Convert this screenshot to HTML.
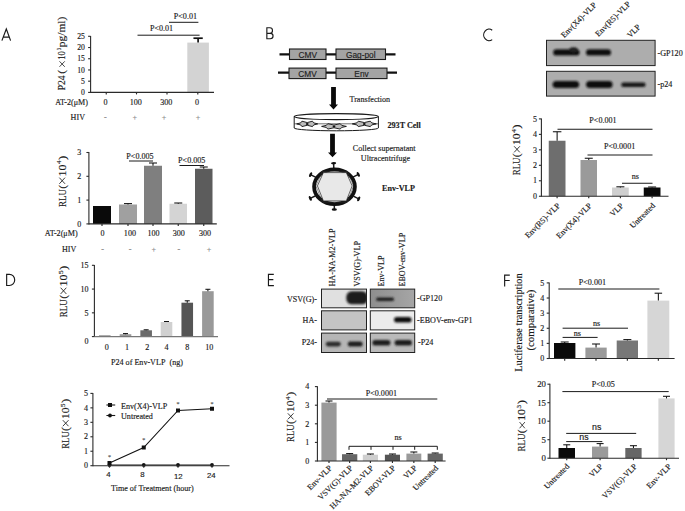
<!DOCTYPE html>
<html><head><meta charset="utf-8"><style>
html,body{margin:0;padding:0;background:#fff;width:685px;height:511px;overflow:hidden}
svg{display:block}
</style></head><body>
<svg width="685" height="511" viewBox="0 0 685 511">
<path d="M1.9,40.6 L6.3,29.0 L10.6,40.6 M3.4,37.1 L9.3,37.1 M266.85,27.75 V38.75 M266.3,27.75 H269.9 A2.6,2.8 0 0 1 269.9,33.35 H266.85 M266.85,33.35 H270.3 A2.75,2.7 0 0 1 270.3,38.75 H266.3 M492.2,30.2 A5.4,5.75 0 1 0 492.2,39.6 M6.65,274.3 V285.5 H9.4 A5.3,5.6 0 0 0 9.4,274.3 Z M273.8,274.35 H268.45 V285.6 H273.9 M268.45,279.65 H273.35 M509.8,275.15 H504.65 V286.4 M504.65,280.45 H509.7" fill="none" stroke="#1a1a1a" stroke-width="1.15"/>
<text x="84.90" y="95.10" font-size="7.7" font-family="Liberation Serif" text-anchor="end" fill="#1a1a1a" stroke="#1a1a1a" stroke-width="0.15">0</text>
<text x="84.90" y="83.88" font-size="7.7" font-family="Liberation Serif" text-anchor="end" fill="#1a1a1a" stroke="#1a1a1a" stroke-width="0.15">5</text>
<text x="84.90" y="72.66" font-size="7.7" font-family="Liberation Serif" text-anchor="end" fill="#1a1a1a" stroke="#1a1a1a" stroke-width="0.15">10</text>
<text x="84.90" y="61.44" font-size="7.7" font-family="Liberation Serif" text-anchor="end" fill="#1a1a1a" stroke="#1a1a1a" stroke-width="0.15">15</text>
<text x="84.90" y="50.22" font-size="7.7" font-family="Liberation Serif" text-anchor="end" fill="#1a1a1a" stroke="#1a1a1a" stroke-width="0.15">20</text>
<text x="84.90" y="39.00" font-size="7.7" font-family="Liberation Serif" text-anchor="end" fill="#1a1a1a" stroke="#1a1a1a" stroke-width="0.15">25</text>
<rect x="187.30" y="42.60" width="21.60" height="49.80" fill="#d3d3d3"/>
<line x1="198.10" y1="42.60" x2="198.10" y2="38.20" stroke="#111" stroke-width="1.7"/>
<line x1="193.45" y1="38.20" x2="202.75" y2="38.20" stroke="#111" stroke-width="1.7"/>
<line x1="137.50" y1="35.20" x2="199.60" y2="35.20" stroke="#1a1a1a" stroke-width="1"/>
<text x="161.50" y="31.00" font-size="8.1" font-family="Liberation Serif" text-anchor="middle" fill="#1a1a1a" stroke="#1a1a1a" stroke-width="0.15">P&lt;0.01</text>
<line x1="169.00" y1="22.30" x2="198.40" y2="22.30" stroke="#1a1a1a" stroke-width="1"/>
<text x="185.40" y="18.80" font-size="8.1" font-family="Liberation Serif" text-anchor="middle" fill="#1a1a1a" stroke="#1a1a1a" stroke-width="0.15">P&lt;0.01</text>
<text x="88.00" y="104.80" font-size="8.1" font-family="Liberation Serif" text-anchor="end" fill="#1a1a1a" stroke="#1a1a1a" stroke-width="0.15">AT-2(μM)</text>
<text x="105.45" y="105.00" font-size="8.1" font-family="Liberation Serif" text-anchor="middle" fill="#1a1a1a" stroke="#1a1a1a" stroke-width="0.15">0</text>
<text x="135.70" y="105.00" font-size="8.1" font-family="Liberation Serif" text-anchor="middle" fill="#1a1a1a" stroke="#1a1a1a" stroke-width="0.15">100</text>
<text x="166.20" y="105.00" font-size="8.1" font-family="Liberation Serif" text-anchor="middle" fill="#1a1a1a" stroke="#1a1a1a" stroke-width="0.15">300</text>
<text x="197.00" y="105.00" font-size="8.1" font-family="Liberation Serif" text-anchor="middle" fill="#1a1a1a" stroke="#1a1a1a" stroke-width="0.15">0</text>
<text x="85.00" y="119.80" font-size="8.1" font-family="Liberation Serif" text-anchor="end" fill="#1a1a1a" stroke="#1a1a1a" stroke-width="0.15">HIV</text>
<text x="105.30" y="119.80" font-size="8.1" font-family="Liberation Serif" text-anchor="middle" fill="#888" stroke="#888" stroke-width="0.15">-</text>
<text x="134.70" y="119.80" font-size="8.1" font-family="Liberation Serif" text-anchor="middle" fill="#888" stroke="#888" stroke-width="0.15">+</text>
<text x="164.10" y="119.80" font-size="8.1" font-family="Liberation Serif" text-anchor="middle" fill="#888" stroke="#888" stroke-width="0.15">+</text>
<text x="198.00" y="119.80" font-size="8.1" font-family="Liberation Serif" text-anchor="middle" fill="#888" stroke="#888" stroke-width="0.15">+</text>
<g transform="translate(65.30 90.20) rotate(-90)" fill="#1a1a1a" font-family="Liberation Serif" stroke="#1a1a1a" stroke-width="0.15"><text x="0.00" y="0" font-size="10.6" textLength="14.80" lengthAdjust="spacingAndGlyphs">P24</text><text x="16.40" y="0" font-size="10.6" textLength="3.90" lengthAdjust="spacingAndGlyphs">(</text><path d="M23.40,-5.83 L28.90,-0.53 M23.40,-0.53 L28.90,-5.83" stroke="#1a1a1a" stroke-width="0.79" fill="none"/><text x="30.50" y="0" font-size="10.6" textLength="8.60" lengthAdjust="spacingAndGlyphs">10</text><text x="39.90" y="-4.03" font-size="6.57" textLength="2.30" lengthAdjust="spacingAndGlyphs">3</text><text x="43.00" y="0" font-size="10.6" textLength="30.50" lengthAdjust="spacingAndGlyphs">pg/ml)</text></g>
<text x="81.30" y="226.60" font-size="8.0" font-family="Liberation Serif" text-anchor="end" fill="#1a1a1a" stroke="#1a1a1a" stroke-width="0.15">0</text>
<text x="81.30" y="202.80" font-size="8.0" font-family="Liberation Serif" text-anchor="end" fill="#1a1a1a" stroke="#1a1a1a" stroke-width="0.15">1</text>
<text x="81.30" y="179.00" font-size="8.0" font-family="Liberation Serif" text-anchor="end" fill="#1a1a1a" stroke="#1a1a1a" stroke-width="0.15">2</text>
<text x="81.30" y="155.20" font-size="8.0" font-family="Liberation Serif" text-anchor="end" fill="#1a1a1a" stroke="#1a1a1a" stroke-width="0.15">3</text>
<rect x="93.00" y="206.00" width="18.00" height="17.90" fill="#0a0a0a"/>
<rect x="119.00" y="204.50" width="18.00" height="19.40" fill="#a0a0a0"/>
<line x1="128.00" y1="204.50" x2="128.00" y2="203.60" stroke="#111" stroke-width="1.05"/>
<line x1="124.00" y1="203.60" x2="132.00" y2="203.60" stroke="#111" stroke-width="1.05"/>
<rect x="144.00" y="165.75" width="18.00" height="58.15" fill="#7f7f7f"/>
<line x1="153.00" y1="165.75" x2="153.00" y2="163.00" stroke="#111" stroke-width="1.05"/>
<line x1="149.00" y1="163.00" x2="157.00" y2="163.00" stroke="#111" stroke-width="1.05"/>
<rect x="169.50" y="203.75" width="17.50" height="20.15" fill="#d4d4d4"/>
<line x1="178.25" y1="203.75" x2="178.25" y2="203.00" stroke="#111" stroke-width="1.05"/>
<line x1="174.25" y1="203.00" x2="182.25" y2="203.00" stroke="#111" stroke-width="1.05"/>
<rect x="195.00" y="168.75" width="17.50" height="55.15" fill="#5c5c5c"/>
<line x1="203.75" y1="168.75" x2="203.75" y2="167.00" stroke="#111" stroke-width="1.05"/>
<line x1="199.75" y1="167.00" x2="207.75" y2="167.00" stroke="#111" stroke-width="1.05"/>
<line x1="129.00" y1="161.00" x2="153.00" y2="161.00" stroke="#1a1a1a" stroke-width="1"/>
<text x="140.00" y="159.30" font-size="8.1" font-family="Liberation Serif" text-anchor="middle" fill="#1a1a1a" stroke="#1a1a1a" stroke-width="0.15">P&lt;0.005</text>
<line x1="179.50" y1="165.50" x2="204.00" y2="165.50" stroke="#1a1a1a" stroke-width="1"/>
<text x="191.75" y="163.00" font-size="8.1" font-family="Liberation Serif" text-anchor="middle" fill="#1a1a1a" stroke="#1a1a1a" stroke-width="0.15">P&lt;0.005</text>
<text x="77.60" y="235.60" font-size="8.1" font-family="Liberation Serif" text-anchor="end" fill="#1a1a1a" stroke="#1a1a1a" stroke-width="0.15">AT-2(μM)</text>
<text x="102.50" y="235.50" font-size="8.1" font-family="Liberation Serif" text-anchor="middle" fill="#1a1a1a" stroke="#1a1a1a" stroke-width="0.15">0</text>
<text x="129.90" y="235.50" font-size="8.1" font-family="Liberation Serif" text-anchor="middle" fill="#1a1a1a" stroke="#1a1a1a" stroke-width="0.15">100</text>
<text x="153.60" y="235.50" font-size="8.1" font-family="Liberation Serif" text-anchor="middle" fill="#1a1a1a" stroke="#1a1a1a" stroke-width="0.15">100</text>
<text x="178.80" y="235.50" font-size="8.1" font-family="Liberation Serif" text-anchor="middle" fill="#1a1a1a" stroke="#1a1a1a" stroke-width="0.15">300</text>
<text x="205.00" y="235.50" font-size="8.1" font-family="Liberation Serif" text-anchor="middle" fill="#1a1a1a" stroke="#1a1a1a" stroke-width="0.15">300</text>
<text x="76.30" y="251.50" font-size="8.1" font-family="Liberation Serif" text-anchor="end" fill="#1a1a1a" stroke="#1a1a1a" stroke-width="0.15">HIV</text>
<text x="102.50" y="251.50" font-size="8.1" font-family="Liberation Serif" text-anchor="middle" fill="#888" stroke="#888" stroke-width="0.15">-</text>
<text x="130.00" y="251.50" font-size="8.1" font-family="Liberation Serif" text-anchor="middle" fill="#888" stroke="#888" stroke-width="0.15">-</text>
<text x="153.75" y="251.50" font-size="8.1" font-family="Liberation Serif" text-anchor="middle" fill="#888" stroke="#888" stroke-width="0.15">+</text>
<text x="178.75" y="251.50" font-size="8.1" font-family="Liberation Serif" text-anchor="middle" fill="#888" stroke="#888" stroke-width="0.15">-</text>
<text x="209.00" y="251.50" font-size="8.1" font-family="Liberation Serif" text-anchor="middle" fill="#888" stroke="#888" stroke-width="0.15">+</text>
<g transform="translate(65.60 207.00) rotate(-90)" fill="#1a1a1a" font-family="Liberation Serif" stroke="#1a1a1a" stroke-width="0.15"><text x="0.00" y="0" font-size="11.4" textLength="18.02" lengthAdjust="spacingAndGlyphs">RLU</text><text x="18.28" y="0" font-size="11.4" textLength="3.86" lengthAdjust="spacingAndGlyphs">(</text><path d="M23.18,-6.27 L29.35,-0.57 M23.18,-0.57 L29.35,-6.27" stroke="#1a1a1a" stroke-width="0.85" fill="none"/><text x="30.64" y="0" font-size="11.4" textLength="11.84" lengthAdjust="spacingAndGlyphs">10</text><text x="43.00" y="-4.33" font-size="7.07" textLength="3.61" lengthAdjust="spacingAndGlyphs">4</text><text x="47.12" y="0" font-size="11.4" textLength="4.38" lengthAdjust="spacingAndGlyphs">)</text></g>
<text x="88.40" y="344.30" font-size="8.0" font-family="Liberation Serif" text-anchor="end" fill="#1a1a1a" stroke="#1a1a1a" stroke-width="0.15">0</text>
<text x="88.40" y="315.53" font-size="8.0" font-family="Liberation Serif" text-anchor="end" fill="#1a1a1a" stroke="#1a1a1a" stroke-width="0.15">5</text>
<text x="88.40" y="291.77" font-size="8.0" font-family="Liberation Serif" text-anchor="end" fill="#1a1a1a" stroke="#1a1a1a" stroke-width="0.15">10</text>
<text x="88.40" y="268.00" font-size="8.0" font-family="Liberation Serif" text-anchor="end" fill="#1a1a1a" stroke="#1a1a1a" stroke-width="0.15">15</text>
<line x1="99.00" y1="336.00" x2="110.60" y2="336.00" stroke="#333" stroke-width="0.8"/>
<rect x="119.70" y="334.20" width="11.60" height="1.80" fill="#999"/>
<line x1="125.50" y1="334.20" x2="125.50" y2="333.60" stroke="#111" stroke-width="1.05"/>
<line x1="123.00" y1="333.60" x2="128.00" y2="333.60" stroke="#111" stroke-width="1.05"/>
<rect x="140.35" y="330.30" width="11.60" height="5.70" fill="#6a6a6a"/>
<line x1="146.15" y1="330.30" x2="146.15" y2="329.80" stroke="#111" stroke-width="1.05"/>
<line x1="143.65" y1="329.80" x2="148.65" y2="329.80" stroke="#111" stroke-width="1.05"/>
<rect x="160.70" y="322.00" width="11.60" height="14.00" fill="#d0d0d0"/>
<line x1="166.50" y1="322.00" x2="166.50" y2="321.50" stroke="#111" stroke-width="1.05"/>
<line x1="164.00" y1="321.50" x2="169.00" y2="321.50" stroke="#111" stroke-width="1.05"/>
<rect x="181.45" y="302.70" width="11.60" height="33.30" fill="#555"/>
<line x1="187.25" y1="302.70" x2="187.25" y2="300.80" stroke="#111" stroke-width="1.05"/>
<line x1="184.75" y1="300.80" x2="189.75" y2="300.80" stroke="#111" stroke-width="1.05"/>
<rect x="202.10" y="291.20" width="11.60" height="44.80" fill="#999"/>
<line x1="207.90" y1="291.20" x2="207.90" y2="289.30" stroke="#111" stroke-width="1.05"/>
<line x1="205.40" y1="289.30" x2="210.40" y2="289.30" stroke="#111" stroke-width="1.05"/>
<text x="106.75" y="350.00" font-size="8.1" font-family="Liberation Serif" text-anchor="middle" fill="#1a1a1a" stroke="#1a1a1a" stroke-width="0.15">0</text>
<text x="127.00" y="350.00" font-size="8.1" font-family="Liberation Serif" text-anchor="middle" fill="#1a1a1a" stroke="#1a1a1a" stroke-width="0.15">1</text>
<text x="147.20" y="350.00" font-size="8.1" font-family="Liberation Serif" text-anchor="middle" fill="#1a1a1a" stroke="#1a1a1a" stroke-width="0.15">2</text>
<text x="166.50" y="350.00" font-size="8.1" font-family="Liberation Serif" text-anchor="middle" fill="#1a1a1a" stroke="#1a1a1a" stroke-width="0.15">4</text>
<text x="187.20" y="350.00" font-size="8.1" font-family="Liberation Serif" text-anchor="middle" fill="#1a1a1a" stroke="#1a1a1a" stroke-width="0.15">8</text>
<text x="209.20" y="350.00" font-size="8.1" font-family="Liberation Serif" text-anchor="middle" fill="#1a1a1a" stroke="#1a1a1a" stroke-width="0.15">10</text>
<text x="111.00" y="364.50" font-size="8.1" font-family="Liberation Serif" fill="#1a1a1a" stroke="#1a1a1a" stroke-width="0.15">P24 of Env-VLP  (ng)</text>
<g transform="translate(66.90 317.20) rotate(-90)" fill="#1a1a1a" font-family="Liberation Serif" stroke="#1a1a1a" stroke-width="0.15"><text x="0.00" y="0" font-size="11.4" textLength="18.09" lengthAdjust="spacingAndGlyphs">RLU</text><text x="18.35" y="0" font-size="11.4" textLength="3.88" lengthAdjust="spacingAndGlyphs">(</text><path d="M23.26,-6.27 L29.47,-0.57 M23.26,-0.57 L29.47,-6.27" stroke="#1a1a1a" stroke-width="0.85" fill="none"/><text x="30.76" y="0" font-size="11.4" textLength="11.89" lengthAdjust="spacingAndGlyphs">10</text><text x="43.17" y="-4.33" font-size="7.07" textLength="3.62" lengthAdjust="spacingAndGlyphs">5</text><text x="47.31" y="0" font-size="11.4" textLength="4.39" lengthAdjust="spacingAndGlyphs">)</text></g>
<text x="88.00" y="468.40" font-size="8.0" font-family="Liberation Serif" text-anchor="end" fill="#1a1a1a" stroke="#1a1a1a" stroke-width="0.15">0</text>
<text x="88.00" y="453.94" font-size="8.0" font-family="Liberation Serif" text-anchor="end" fill="#1a1a1a" stroke="#1a1a1a" stroke-width="0.15">1</text>
<text x="88.00" y="439.48" font-size="8.0" font-family="Liberation Serif" text-anchor="end" fill="#1a1a1a" stroke="#1a1a1a" stroke-width="0.15">2</text>
<text x="88.00" y="425.02" font-size="8.0" font-family="Liberation Serif" text-anchor="end" fill="#1a1a1a" stroke="#1a1a1a" stroke-width="0.15">3</text>
<text x="88.00" y="410.56" font-size="8.0" font-family="Liberation Serif" text-anchor="end" fill="#1a1a1a" stroke="#1a1a1a" stroke-width="0.15">4</text>
<text x="88.00" y="396.10" font-size="8.0" font-family="Liberation Serif" text-anchor="end" fill="#1a1a1a" stroke="#1a1a1a" stroke-width="0.15">5</text>
<polyline points="109.5,463 143.75,447.5 178,410.5 212,408.75" fill="none" stroke="#111" stroke-width="1.05"/>
<line x1="109.50" y1="465.00" x2="212.00" y2="465.00" stroke="#1a1a1a" stroke-width="1.2"/>
<rect x="107.50" y="461.00" width="4.00" height="4.00" fill="#111"/>
<rect x="141.75" y="445.50" width="4.00" height="4.00" fill="#111"/>
<rect x="176.00" y="408.50" width="4.00" height="4.00" fill="#111"/>
<rect x="210.00" y="406.75" width="4.00" height="4.00" fill="#111"/>
<circle cx="109.5" cy="465" r="1.9" fill="#111"/>
<circle cx="143.75" cy="465" r="1.9" fill="#111"/>
<circle cx="178" cy="465" r="1.9" fill="#111"/>
<circle cx="212" cy="465" r="1.9" fill="#111"/>
<text x="109.50" y="458.50" font-size="6" font-family="Liberation Serif" text-anchor="middle" fill="#666" stroke="#666" stroke-width="0.15">*</text>
<text x="143.75" y="442.00" font-size="6" font-family="Liberation Serif" text-anchor="middle" fill="#666" stroke="#666" stroke-width="0.15">*</text>
<text x="178.00" y="406.00" font-size="6" font-family="Liberation Serif" text-anchor="middle" fill="#666" stroke="#666" stroke-width="0.15">*</text>
<text x="212.00" y="405.50" font-size="6" font-family="Liberation Serif" text-anchor="middle" fill="#666" stroke="#666" stroke-width="0.15">*</text>
<line x1="106.40" y1="405.00" x2="115.20" y2="405.00" stroke="#1a1a1a" stroke-width="1.1"/>
<rect x="108.00" y="403.00" width="4.00" height="4.00" fill="#111"/>
<text x="121.00" y="408.50" font-size="8.1" font-family="Liberation Serif" fill="#1a1a1a" stroke="#1a1a1a" stroke-width="0.15">Env(X4)-VLP</text>
<line x1="106.40" y1="415.50" x2="115.20" y2="415.50" stroke="#1a1a1a" stroke-width="1.1"/>
<circle cx="110" cy="415.5" r="1.9" fill="#111"/>
<text x="121.00" y="419.00" font-size="8.1" font-family="Liberation Serif" fill="#1a1a1a" stroke="#1a1a1a" stroke-width="0.15">Untreated</text>
<text x="108.50" y="477.30" font-size="7.8" font-family="Liberation Sans" text-anchor="middle" fill="#1a1a1a" stroke="#1a1a1a" stroke-width="0.15">4</text>
<text x="142.50" y="477.30" font-size="7.8" font-family="Liberation Sans" text-anchor="middle" fill="#1a1a1a" stroke="#1a1a1a" stroke-width="0.15">8</text>
<text x="178.30" y="478.60" font-size="7.8" font-family="Liberation Sans" text-anchor="middle" fill="#1a1a1a" stroke="#1a1a1a" stroke-width="0.15">12</text>
<text x="211.30" y="477.60" font-size="7.8" font-family="Liberation Sans" text-anchor="middle" fill="#1a1a1a" stroke="#1a1a1a" stroke-width="0.15">24</text>
<text x="111.00" y="490.50" font-size="8.1" font-family="Liberation Serif" fill="#1a1a1a" stroke="#1a1a1a" stroke-width="0.15">Time of Treatment (hour)</text>
<g transform="translate(69.10 448.80) rotate(-90)" fill="#1a1a1a" font-family="Liberation Serif" stroke="#1a1a1a" stroke-width="0.15"><text x="0.00" y="0" font-size="11.4" textLength="17.57" lengthAdjust="spacingAndGlyphs">RLU</text><text x="17.82" y="0" font-size="11.4" textLength="3.77" lengthAdjust="spacingAndGlyphs">(</text><path d="M22.59,-6.27 L28.61,-0.57 M22.59,-0.57 L28.61,-6.27" stroke="#1a1a1a" stroke-width="0.85" fill="none"/><text x="29.87" y="0" font-size="11.4" textLength="11.55" lengthAdjust="spacingAndGlyphs">10</text><text x="41.92" y="-4.33" font-size="7.07" textLength="3.51" lengthAdjust="spacingAndGlyphs">5</text><text x="45.93" y="0" font-size="11.4" textLength="4.27" lengthAdjust="spacingAndGlyphs">)</text></g>
<line x1="279.50" y1="54.40" x2="395.50" y2="54.40" stroke="#111" stroke-width="2.1"/>
<rect x="289.50" y="49.00" width="36.50" height="10.50" fill="#a4a4a4" stroke="#1a1a1a" stroke-width="1.1"/>
<rect x="336.00" y="49.00" width="49.50" height="10.50" fill="#a4a4a4" stroke="#1a1a1a" stroke-width="1.1"/>
<text x="307.75" y="57.70" font-size="8.3" font-family="Liberation Sans" text-anchor="middle" fill="#222" stroke="#222" stroke-width="0.15">CMV</text>
<text x="360.75" y="57.70" font-size="8.3" font-family="Liberation Sans" text-anchor="middle" fill="#222" stroke="#222" stroke-width="0.15">Gag-pol</text>
<line x1="278.00" y1="72.60" x2="397.00" y2="72.60" stroke="#111" stroke-width="2.1"/>
<rect x="289.00" y="68.10" width="37.00" height="10.50" fill="#a4a4a4" stroke="#1a1a1a" stroke-width="1.1"/>
<rect x="336.00" y="68.10" width="51.00" height="10.50" fill="#a4a4a4" stroke="#1a1a1a" stroke-width="1.1"/>
<text x="307.50" y="76.80" font-size="8.3" font-family="Liberation Sans" text-anchor="middle" fill="#222" stroke="#222" stroke-width="0.15">CMV</text>
<text x="361.50" y="76.80" font-size="8.3" font-family="Liberation Sans" text-anchor="middle" fill="#222" stroke="#222" stroke-width="0.15">Env</text>
<polygon points="331.1,87 335.9,87 335.9,104.60000000000001 338.0,104.60000000000001 333.5,109.4 329.0,104.60000000000001 331.1,104.60000000000001" fill="#0a0a0a"/>
<text x="349.50" y="102.30" font-size="8.1" font-family="Liberation Serif" fill="#1a1a1a" stroke="#1a1a1a" stroke-width="0.15">Transfection</text>
<path d="M294.2,116.6 L294.2,128 A42.1,2.8 0 0 0 378.4,128 L378.4,116.6" fill="#fff" stroke="#1a1a1a" stroke-width="1"/>
<ellipse cx="336.3" cy="116.6" rx="42.1" ry="3.0" fill="#fff" stroke="#1a1a1a" stroke-width="1.1"/>
<line x1="294.20" y1="123.80" x2="378.40" y2="123.80" stroke="#333" stroke-width="0.7"/>
<polygon points="296.70,123.90 300.69,122.87 301.95,121.20 307.20,122.55 312.45,121.20 313.71,122.87 317.70,123.90 313.71,124.93 312.45,126.60 307.20,125.25 301.95,126.60 300.69,124.93" fill="#bdbdbd" stroke="#111" stroke-width="0.9" stroke-linejoin="miter"/>
<ellipse cx="307.2" cy="123.9" rx="1.4" ry="1.0" fill="#111"/>
<polygon points="321.60,126.40 326.31,125.37 327.80,123.70 334.00,125.05 340.20,123.70 341.69,125.37 346.40,126.40 341.69,127.43 340.20,129.10 334.00,127.75 327.80,129.10 326.31,127.43" fill="#bdbdbd" stroke="#111" stroke-width="0.9" stroke-linejoin="miter"/>
<ellipse cx="334" cy="126.4" rx="1.4" ry="1.0" fill="#111"/>
<polygon points="352.30,123.90 356.86,122.87 358.30,121.20 364.30,122.55 370.30,121.20 371.74,122.87 376.30,123.90 371.74,124.93 370.30,126.60 364.30,125.25 358.30,126.60 356.86,124.93" fill="#bdbdbd" stroke="#111" stroke-width="0.9" stroke-linejoin="miter"/>
<ellipse cx="364.3" cy="123.9" rx="1.4" ry="1.0" fill="#111"/>
<text x="387.50" y="128.20" font-size="8.1" font-family="Liberation Serif" font-weight="bold" fill="#1a1a1a" stroke="#1a1a1a" stroke-width="0.15">293T Cell</text>
<polygon points="330.1,133.8 334.9,133.8 334.9,152.39999999999998 337.0,152.39999999999998 332.5,157.2 328.0,152.39999999999998 330.1,152.39999999999998" fill="#0a0a0a"/>
<text x="384.20" y="151.00" font-size="8.1" font-family="Liberation Serif" text-anchor="middle" fill="#1a1a1a" stroke="#1a1a1a" stroke-width="0.15">Collect  supernatant</text>
<text x="385.50" y="161.30" font-size="8.1" font-family="Liberation Serif" text-anchor="middle" fill="#1a1a1a" stroke="#1a1a1a" stroke-width="0.15">Ultracentrifuge</text>
<line x1="333.83" y1="169.20" x2="333.62" y2="163.70" stroke="#1a1a1a" stroke-width="1.5"/>
<ellipse cx="333.60" cy="163.20" rx="2.6" ry="1.25" fill="#111" transform="rotate(-2.2 333.60 163.20)"/>
<line x1="334.35" y1="203.60" x2="334.30" y2="209.10" stroke="#1a1a1a" stroke-width="1.5"/>
<ellipse cx="334.30" cy="209.60" rx="2.6" ry="1.25" fill="#111" transform="rotate(180.5 334.30 209.60)"/>
<line x1="315.95" y1="177.31" x2="311.05" y2="174.83" stroke="#1a1a1a" stroke-width="1.5"/>
<ellipse cx="310.60" cy="174.60" rx="2.6" ry="1.25" fill="#111" transform="rotate(-63.1 310.60 174.60)"/>
<line x1="352.97" y1="177.15" x2="357.86" y2="174.63" stroke="#1a1a1a" stroke-width="1.5"/>
<ellipse cx="358.30" cy="174.40" rx="2.6" ry="1.25" fill="#111" transform="rotate(62.7 358.30 174.40)"/>
<line x1="315.70" y1="195.79" x2="310.75" y2="198.18" stroke="#1a1a1a" stroke-width="1.5"/>
<ellipse cx="310.30" cy="198.40" rx="2.6" ry="1.25" fill="#111" transform="rotate(244.2 310.30 198.40)"/>
<line x1="353.34" y1="196.20" x2="358.25" y2="198.67" stroke="#1a1a1a" stroke-width="1.5"/>
<ellipse cx="358.70" cy="198.90" rx="2.6" ry="1.25" fill="#111" transform="rotate(116.8 358.70 198.90)"/>
<ellipse cx="334.5" cy="186.7" rx="20.4" ry="17.4" fill="#fff" stroke="#111" stroke-width="3.8"/>
<polygon points="317.4,185.9 323.4,172.6 346.3,172.6 352.2,185.9 346.3,200.9 323.4,200.9" fill="#e8e8e8" stroke="#222" stroke-width="0.7"/>
<polygon points="315.9,185.9 322.4,171.4 347.3,171.4 353.6,185.9 347.3,202.1 322.4,202.1" fill="none" stroke="#333" stroke-width="0.5"/>
<text x="382.00" y="190.50" font-size="8.1" font-family="Liberation Serif" font-weight="bold" fill="#1a1a1a" stroke="#1a1a1a" stroke-width="0.15">Env-VLP</text>
<defs><filter id="bl" x="-20%" y="-50%" width="140%" height="200%"><feGaussianBlur stdDeviation="1.2"/></filter><filter id="bl2" x="-20%" y="-50%" width="140%" height="200%"><feGaussianBlur stdDeviation="0.8"/></filter></defs>
<rect x="546.50" y="40.30" width="108.60" height="25.30" fill="#adadad" stroke="#222" stroke-width="1"/>
<rect x="546.50" y="71.30" width="108.60" height="24.80" fill="#adadad" stroke="#222" stroke-width="1"/>
<rect x="553.2" y="49.2" width="26.299999999999955" height="6.399999999999999" rx="3.1999999999999993" fill="#111" filter="url(#bl)"/>
<rect x="586" y="49.2" width="25" height="6.399999999999999" rx="3.1999999999999993" fill="#111" filter="url(#bl)"/>
<ellipse cx="573.5" cy="49.8" rx="4" ry="2.6" fill="#222" filter="url(#bl2)"/>
<rect x="552.6" y="80.9" width="26.600000000000023" height="7.0" rx="3.5" fill="#111" filter="url(#bl)"/>
<rect x="586" y="80.9" width="26.600000000000023" height="7.0" rx="3.5" fill="#111" filter="url(#bl)"/>
<rect x="621.2" y="82.5" width="24.399999999999977" height="4.400000000000006" rx="2.200000000000003" fill="#151515" filter="url(#bl)"/>
<text x="657.50" y="55.50" font-size="8.1" font-family="Liberation Serif" fill="#1a1a1a" stroke="#1a1a1a" stroke-width="0.15">-GP120</text>
<text x="657.50" y="86.50" font-size="8.1" font-family="Liberation Serif" fill="#1a1a1a" stroke="#1a1a1a" stroke-width="0.15">-p24</text>
<text x="597.00" y="5.50" font-size="8.1" font-family="Liberation Serif" text-anchor="end" fill="#1a1a1a" stroke="#1a1a1a" stroke-width="0.15" transform="rotate(-45 597.00 5.50)">Env(X4)-VLP</text>
<text x="631.00" y="4.50" font-size="8.1" font-family="Liberation Serif" text-anchor="end" fill="#1a1a1a" stroke="#1a1a1a" stroke-width="0.15" transform="rotate(-45 631.00 4.50)">Env(R5)-VLP</text>
<text x="641.00" y="27.50" font-size="8.1" font-family="Liberation Serif" text-anchor="end" fill="#1a1a1a" stroke="#1a1a1a" stroke-width="0.15" transform="rotate(-45 641.00 27.50)">VLP</text>
<text x="537.10" y="198.95" font-size="8.0" font-family="Liberation Serif" text-anchor="end" fill="#1a1a1a" stroke="#1a1a1a" stroke-width="0.15">0</text>
<text x="537.10" y="183.48" font-size="8.0" font-family="Liberation Serif" text-anchor="end" fill="#1a1a1a" stroke="#1a1a1a" stroke-width="0.15">1</text>
<text x="537.10" y="168.01" font-size="8.0" font-family="Liberation Serif" text-anchor="end" fill="#1a1a1a" stroke="#1a1a1a" stroke-width="0.15">2</text>
<text x="537.10" y="152.54" font-size="8.0" font-family="Liberation Serif" text-anchor="end" fill="#1a1a1a" stroke="#1a1a1a" stroke-width="0.15">3</text>
<text x="537.10" y="137.07" font-size="8.0" font-family="Liberation Serif" text-anchor="end" fill="#1a1a1a" stroke="#1a1a1a" stroke-width="0.15">4</text>
<text x="537.10" y="121.60" font-size="8.0" font-family="Liberation Serif" text-anchor="end" fill="#1a1a1a" stroke="#1a1a1a" stroke-width="0.15">5</text>
<rect x="548.75" y="140.75" width="16.75" height="55.50" fill="#6e6e6e"/>
<line x1="557.12" y1="140.75" x2="557.12" y2="131.75" stroke="#111" stroke-width="1.05"/>
<line x1="552.88" y1="131.75" x2="561.38" y2="131.75" stroke="#111" stroke-width="1.05"/>
<rect x="580.50" y="160.00" width="16.50" height="36.25" fill="#9a9a9a"/>
<line x1="588.75" y1="160.00" x2="588.75" y2="158.25" stroke="#111" stroke-width="1.05"/>
<line x1="584.75" y1="158.25" x2="592.75" y2="158.25" stroke="#111" stroke-width="1.05"/>
<rect x="612.00" y="187.50" width="16.75" height="8.75" fill="#cfcfcf"/>
<line x1="620.38" y1="187.50" x2="620.38" y2="186.80" stroke="#111" stroke-width="1.05"/>
<line x1="616.38" y1="186.80" x2="624.38" y2="186.80" stroke="#111" stroke-width="1.05"/>
<rect x="643.75" y="187.50" width="16.75" height="8.75" fill="#0a0a0a"/>
<line x1="652.12" y1="187.50" x2="652.12" y2="187.00" stroke="#111" stroke-width="1.05"/>
<line x1="648.12" y1="187.00" x2="656.12" y2="187.00" stroke="#111" stroke-width="1.05"/>
<line x1="557.50" y1="129.25" x2="652.50" y2="129.25" stroke="#1a1a1a" stroke-width="1"/>
<text x="603.00" y="122.80" font-size="8.1" font-family="Liberation Serif" text-anchor="middle" fill="#1a1a1a" stroke="#1a1a1a" stroke-width="0.15">P&lt;0.001</text>
<line x1="587.50" y1="155.00" x2="652.50" y2="155.00" stroke="#1a1a1a" stroke-width="1"/>
<text x="619.60" y="149.00" font-size="8.1" font-family="Liberation Serif" text-anchor="middle" fill="#1a1a1a" stroke="#1a1a1a" stroke-width="0.15">P&lt;0.0001</text>
<line x1="622.00" y1="183.25" x2="652.50" y2="183.25" stroke="#1a1a1a" stroke-width="1"/>
<text x="635.40" y="179.20" font-size="8.1" font-family="Liberation Serif" text-anchor="middle" fill="#1a1a1a" stroke="#1a1a1a" stroke-width="0.15">ns</text>
<text x="560.60" y="206.20" font-size="8.1" font-family="Liberation Serif" text-anchor="end" fill="#1a1a1a" stroke="#1a1a1a" stroke-width="0.15" transform="rotate(-45 560.60 206.20)">Env(R5)-VLP</text>
<text x="592.25" y="206.20" font-size="8.1" font-family="Liberation Serif" text-anchor="end" fill="#1a1a1a" stroke="#1a1a1a" stroke-width="0.15" transform="rotate(-45 592.25 206.20)">Env(X4)-VLP</text>
<text x="623.90" y="206.20" font-size="8.1" font-family="Liberation Serif" text-anchor="end" fill="#1a1a1a" stroke="#1a1a1a" stroke-width="0.15" transform="rotate(-45 623.90 206.20)">VLP</text>
<text x="655.60" y="206.20" font-size="8.1" font-family="Liberation Serif" text-anchor="end" fill="#1a1a1a" stroke="#1a1a1a" stroke-width="0.15" transform="rotate(-45 655.60 206.20)">Untreated</text>
<g transform="translate(520.40 175.30) rotate(-90)" fill="#1a1a1a" font-family="Liberation Serif" stroke="#1a1a1a" stroke-width="0.15"><text x="0.00" y="0" font-size="11.4" textLength="17.82" lengthAdjust="spacingAndGlyphs">RLU</text><text x="18.07" y="0" font-size="11.4" textLength="3.82" lengthAdjust="spacingAndGlyphs">(</text><path d="M22.91,-6.27 L29.01,-0.57 M22.91,-0.57 L29.01,-6.27" stroke="#1a1a1a" stroke-width="0.85" fill="none"/><text x="30.29" y="0" font-size="11.4" textLength="11.71" lengthAdjust="spacingAndGlyphs">10</text><text x="42.50" y="-4.33" font-size="7.07" textLength="3.56" lengthAdjust="spacingAndGlyphs">4</text><text x="46.57" y="0" font-size="11.4" textLength="4.33" lengthAdjust="spacingAndGlyphs">)</text></g>
<rect x="321.50" y="289.10" width="45.00" height="18.70" fill="#e0e0e0" stroke="#222" stroke-width="1"/>
<linearGradient id="gE1" x1="0" x2="1" y1="0" y2="0"><stop offset="0" stop-color="#8e8e8e"/><stop offset="0.5" stop-color="#9a9a9a"/><stop offset="1" stop-color="#a6a6a6"/></linearGradient>
<rect x="370.30" y="289.10" width="44.40" height="18.70" fill="url(#gE1)" stroke="#222" stroke-width="1"/>
<rect x="321.50" y="310.80" width="45.00" height="19.10" fill="#c4c4c4" stroke="#222" stroke-width="1"/>
<rect x="370.30" y="310.80" width="44.40" height="19.10" fill="#ececec" stroke="#222" stroke-width="1"/>
<rect x="321.50" y="333.10" width="45.00" height="19.40" fill="#b6b6b6" stroke="#222" stroke-width="1"/>
<rect x="370.30" y="333.10" width="44.40" height="19.40" fill="#bababa" stroke="#222" stroke-width="1"/>
<clipPath id="cpE1"><rect x="322" y="289.1" width="44" height="18.2"/></clipPath>
<g clip-path="url(#cpE1)"><rect x="346.3" y="291.3" width="21.5" height="13" rx="5.5" fill="#1e1e1e" filter="url(#bl)"/></g>
<rect x="376.2" y="297.6" width="17.80000000000001" height="3.3999999999999773" rx="1.6999999999999886" fill="#1e1e1e" filter="url(#bl2)"/>
<rect x="394" y="316.9" width="17.600000000000023" height="5.600000000000023" rx="2.8000000000000114" fill="#111" filter="url(#bl2)"/>
<rect x="325.8" y="341.8" width="15.0" height="4.599999999999966" rx="2.299999999999983" fill="#2a2a2a" filter="url(#bl2)"/>
<rect x="347.8" y="341.6" width="14.800000000000011" height="5.0" rx="2.5" fill="#1e1e1e" filter="url(#bl2)"/>
<rect x="372.3" y="340" width="18.099999999999966" height="5.600000000000023" rx="2.8000000000000114" fill="#1e1e1e" filter="url(#bl2)"/>
<rect x="394.6" y="340" width="17.399999999999977" height="5.600000000000023" rx="2.8000000000000114" fill="#1e1e1e" filter="url(#bl2)"/>
<text x="317.00" y="302.00" font-size="8.1" font-family="Liberation Serif" text-anchor="end" fill="#1a1a1a" stroke="#1a1a1a" stroke-width="0.15">VSV(G)-</text>
<text x="317.00" y="322.50" font-size="8.1" font-family="Liberation Serif" text-anchor="end" fill="#1a1a1a" stroke="#1a1a1a" stroke-width="0.15">HA-</text>
<text x="317.00" y="344.80" font-size="8.1" font-family="Liberation Serif" text-anchor="end" fill="#1a1a1a" stroke="#1a1a1a" stroke-width="0.15">P24-</text>
<text x="417.00" y="301.00" font-size="8.1" font-family="Liberation Serif" fill="#1a1a1a" stroke="#1a1a1a" stroke-width="0.15">-GP120</text>
<text x="417.00" y="322.50" font-size="8.1" font-family="Liberation Serif" fill="#1a1a1a" stroke="#1a1a1a" stroke-width="0.15">-EBOV-env-GP1</text>
<text x="418.00" y="345.30" font-size="8.1" font-family="Liberation Serif" fill="#1a1a1a" stroke="#1a1a1a" stroke-width="0.15">-P24</text>
<text x="335.00" y="286.50" font-size="8.1" font-family="Liberation Serif" fill="#1a1a1a" stroke="#1a1a1a" stroke-width="0.15" transform="rotate(-90 335.00 286.50)">HA-NA-M2-VLP</text>
<text x="360.20" y="286.50" font-size="8.1" font-family="Liberation Serif" fill="#1a1a1a" stroke="#1a1a1a" stroke-width="0.15" transform="rotate(-90 360.20 286.50)">VSV(G)-VLP</text>
<text x="384.30" y="286.50" font-size="8.1" font-family="Liberation Serif" fill="#1a1a1a" stroke="#1a1a1a" stroke-width="0.15" transform="rotate(-90 384.30 286.50)">Env-VLP</text>
<text x="405.10" y="286.50" font-size="8.1" font-family="Liberation Serif" fill="#1a1a1a" stroke="#1a1a1a" stroke-width="0.15" transform="rotate(-90 405.10 286.50)">EBOV-env-VLP</text>
<text x="309.20" y="463.70" font-size="8.0" font-family="Liberation Serif" text-anchor="end" fill="#1a1a1a" stroke="#1a1a1a" stroke-width="0.15">0</text>
<text x="309.20" y="445.10" font-size="8.0" font-family="Liberation Serif" text-anchor="end" fill="#1a1a1a" stroke="#1a1a1a" stroke-width="0.15">1</text>
<text x="309.20" y="426.50" font-size="8.0" font-family="Liberation Serif" text-anchor="end" fill="#1a1a1a" stroke="#1a1a1a" stroke-width="0.15">2</text>
<text x="309.20" y="407.90" font-size="8.0" font-family="Liberation Serif" text-anchor="end" fill="#1a1a1a" stroke="#1a1a1a" stroke-width="0.15">3</text>
<text x="309.20" y="389.30" font-size="8.0" font-family="Liberation Serif" text-anchor="end" fill="#1a1a1a" stroke="#1a1a1a" stroke-width="0.15">4</text>
<rect x="321.40" y="402.60" width="15.20" height="58.40" fill="#9a9a9a"/>
<line x1="329.00" y1="402.60" x2="329.00" y2="401.00" stroke="#111" stroke-width="1.05"/>
<line x1="325.50" y1="401.00" x2="332.50" y2="401.00" stroke="#111" stroke-width="1.05"/>
<rect x="342.00" y="454.20" width="15.30" height="6.80" fill="#666666"/>
<line x1="349.65" y1="454.20" x2="349.65" y2="453.60" stroke="#111" stroke-width="1.05"/>
<line x1="346.15" y1="453.60" x2="353.15" y2="453.60" stroke="#111" stroke-width="1.05"/>
<rect x="362.80" y="454.70" width="15.20" height="6.30" fill="#cfcfcf"/>
<line x1="370.40" y1="454.70" x2="370.40" y2="454.00" stroke="#111" stroke-width="1.05"/>
<line x1="366.90" y1="454.00" x2="373.90" y2="454.00" stroke="#111" stroke-width="1.05"/>
<rect x="384.90" y="454.70" width="15.10" height="6.30" fill="#555555"/>
<line x1="392.45" y1="454.70" x2="392.45" y2="454.00" stroke="#111" stroke-width="1.05"/>
<line x1="388.95" y1="454.00" x2="395.95" y2="454.00" stroke="#111" stroke-width="1.05"/>
<rect x="406.40" y="453.60" width="14.90" height="7.40" fill="#9a9a9a"/>
<line x1="413.85" y1="453.60" x2="413.85" y2="452.00" stroke="#111" stroke-width="1.05"/>
<line x1="410.35" y1="452.00" x2="417.35" y2="452.00" stroke="#111" stroke-width="1.05"/>
<rect x="427.60" y="453.60" width="15.20" height="7.40" fill="#666666"/>
<line x1="435.20" y1="453.60" x2="435.20" y2="453.00" stroke="#111" stroke-width="1.05"/>
<line x1="431.70" y1="453.00" x2="438.70" y2="453.00" stroke="#111" stroke-width="1.05"/>
<line x1="327.00" y1="399.00" x2="437.30" y2="399.00" stroke="#1a1a1a" stroke-width="1"/>
<text x="381.40" y="396.00" font-size="8.1" font-family="Liberation Serif" text-anchor="middle" fill="#1a1a1a" stroke="#1a1a1a" stroke-width="0.15">P&lt;0.0001</text>
<line x1="349.00" y1="446.30" x2="437.30" y2="446.30" stroke="#1a1a1a" stroke-width="1"/>
<line x1="349.00" y1="446.30" x2="349.00" y2="449.80" stroke="#1a1a1a" stroke-width="1"/>
<line x1="371.00" y1="446.30" x2="371.00" y2="449.80" stroke="#1a1a1a" stroke-width="1"/>
<line x1="393.00" y1="446.30" x2="393.00" y2="449.80" stroke="#1a1a1a" stroke-width="1"/>
<line x1="414.70" y1="446.30" x2="414.70" y2="449.80" stroke="#1a1a1a" stroke-width="1"/>
<line x1="437.30" y1="446.30" x2="437.30" y2="449.80" stroke="#1a1a1a" stroke-width="1"/>
<text x="398.00" y="440.20" font-size="8.1" font-family="Liberation Serif" text-anchor="middle" fill="#1a1a1a" stroke="#1a1a1a" stroke-width="0.15">ns</text>
<text x="332.50" y="468.50" font-size="8.1" font-family="Liberation Serif" text-anchor="end" fill="#1a1a1a" stroke="#1a1a1a" stroke-width="0.15" transform="rotate(-45 332.50 468.50)">Env-VLP</text>
<text x="353.15" y="468.50" font-size="8.1" font-family="Liberation Serif" text-anchor="end" fill="#1a1a1a" stroke="#1a1a1a" stroke-width="0.15" transform="rotate(-45 353.15 468.50)">VSV(G)-VLP</text>
<text x="373.90" y="468.50" font-size="8.1" font-family="Liberation Serif" text-anchor="end" fill="#1a1a1a" stroke="#1a1a1a" stroke-width="0.15" transform="rotate(-45 373.90 468.50)">HA-NA-M2-VLP</text>
<text x="395.95" y="468.50" font-size="8.1" font-family="Liberation Serif" text-anchor="end" fill="#1a1a1a" stroke="#1a1a1a" stroke-width="0.15" transform="rotate(-45 395.95 468.50)">EBOV-VLP</text>
<text x="417.35" y="468.50" font-size="8.1" font-family="Liberation Serif" text-anchor="end" fill="#1a1a1a" stroke="#1a1a1a" stroke-width="0.15" transform="rotate(-45 417.35 468.50)">VLP</text>
<text x="438.70" y="468.50" font-size="8.1" font-family="Liberation Serif" text-anchor="end" fill="#1a1a1a" stroke="#1a1a1a" stroke-width="0.15" transform="rotate(-45 438.70 468.50)">Untreated</text>
<g transform="translate(294.10 441.90) rotate(-90)" fill="#1a1a1a" font-family="Liberation Serif" stroke="#1a1a1a" stroke-width="0.15"><text x="0.00" y="0" font-size="11.4" textLength="17.53" lengthAdjust="spacingAndGlyphs">RLU</text><text x="17.79" y="0" font-size="11.4" textLength="3.76" lengthAdjust="spacingAndGlyphs">(</text><path d="M22.54,-6.27 L28.56,-0.57 M22.54,-0.57 L28.56,-6.27" stroke="#1a1a1a" stroke-width="0.85" fill="none"/><text x="29.81" y="0" font-size="11.4" textLength="11.52" lengthAdjust="spacingAndGlyphs">10</text><text x="41.83" y="-4.33" font-size="7.07" textLength="3.51" lengthAdjust="spacingAndGlyphs">4</text><text x="45.84" y="0" font-size="11.4" textLength="4.26" lengthAdjust="spacingAndGlyphs">)</text></g>
<text x="544.30" y="361.20" font-size="8.0" font-family="Liberation Serif" text-anchor="end" fill="#1a1a1a" stroke="#1a1a1a" stroke-width="0.15">0</text>
<text x="544.30" y="346.08" font-size="8.0" font-family="Liberation Serif" text-anchor="end" fill="#1a1a1a" stroke="#1a1a1a" stroke-width="0.15">1</text>
<text x="544.30" y="330.96" font-size="8.0" font-family="Liberation Serif" text-anchor="end" fill="#1a1a1a" stroke="#1a1a1a" stroke-width="0.15">2</text>
<text x="544.30" y="315.84" font-size="8.0" font-family="Liberation Serif" text-anchor="end" fill="#1a1a1a" stroke="#1a1a1a" stroke-width="0.15">3</text>
<text x="544.30" y="300.72" font-size="8.0" font-family="Liberation Serif" text-anchor="end" fill="#1a1a1a" stroke="#1a1a1a" stroke-width="0.15">4</text>
<text x="544.30" y="285.60" font-size="8.0" font-family="Liberation Serif" text-anchor="end" fill="#1a1a1a" stroke="#1a1a1a" stroke-width="0.15">5</text>
<rect x="554.00" y="343.00" width="21.40" height="15.50" fill="#0a0a0a"/>
<line x1="564.70" y1="343.00" x2="564.70" y2="342.00" stroke="#111" stroke-width="1.05"/>
<line x1="560.70" y1="342.00" x2="568.70" y2="342.00" stroke="#111" stroke-width="1.05"/>
<rect x="585.40" y="347.60" width="21.30" height="10.90" fill="#9a9a9a"/>
<line x1="596.05" y1="347.60" x2="596.05" y2="344.00" stroke="#111" stroke-width="1.05"/>
<line x1="592.05" y1="344.00" x2="600.05" y2="344.00" stroke="#111" stroke-width="1.05"/>
<rect x="616.70" y="340.50" width="21.30" height="18.00" fill="#777777"/>
<line x1="627.35" y1="340.50" x2="627.35" y2="339.60" stroke="#111" stroke-width="1.05"/>
<line x1="623.35" y1="339.60" x2="631.35" y2="339.60" stroke="#111" stroke-width="1.05"/>
<rect x="647.40" y="300.60" width="21.90" height="57.90" fill="#d6d6d6"/>
<line x1="658.35" y1="300.60" x2="658.35" y2="293.20" stroke="#111" stroke-width="1.05"/>
<line x1="654.60" y1="293.20" x2="662.10" y2="293.20" stroke="#111" stroke-width="1.05"/>
<line x1="558.30" y1="289.00" x2="659.40" y2="289.00" stroke="#1a1a1a" stroke-width="1"/>
<text x="592.40" y="285.40" font-size="8.1" font-family="Liberation Serif" text-anchor="middle" fill="#1a1a1a" stroke="#1a1a1a" stroke-width="0.15">P&lt;0.001</text>
<line x1="562.60" y1="328.20" x2="628.00" y2="328.20" stroke="#1a1a1a" stroke-width="1"/>
<text x="596.60" y="326.20" font-size="8.1" font-family="Liberation Serif" text-anchor="middle" fill="#1a1a1a" stroke="#1a1a1a" stroke-width="0.15">ns</text>
<line x1="562.60" y1="337.40" x2="597.60" y2="337.40" stroke="#1a1a1a" stroke-width="1"/>
<text x="577.30" y="335.90" font-size="8.1" font-family="Liberation Serif" text-anchor="middle" fill="#1a1a1a" stroke="#1a1a1a" stroke-width="0.15">ns</text>
<text x="521.60" y="371.80" font-size="10.8" font-family="Liberation Serif" fill="#1a1a1a" stroke="#1a1a1a" stroke-width="0.15" textLength="98.50" lengthAdjust="spacingAndGlyphs" transform="rotate(-90 521.60 371.80)">Luciferase transcription</text>
<text x="534.30" y="350.60" font-size="10.8" font-family="Liberation Serif" fill="#1a1a1a" stroke="#1a1a1a" stroke-width="0.15" textLength="61.00" lengthAdjust="spacingAndGlyphs" transform="rotate(-90 534.30 350.60)">(comparative)</text>
<text x="546.00" y="461.20" font-size="8.8" font-family="Liberation Serif" text-anchor="end" fill="#1a1a1a" stroke="#1a1a1a" stroke-width="0.15">0</text>
<text x="546.00" y="442.70" font-size="8.8" font-family="Liberation Serif" text-anchor="end" fill="#1a1a1a" stroke="#1a1a1a" stroke-width="0.15">5</text>
<text x="546.00" y="424.20" font-size="8.8" font-family="Liberation Serif" text-anchor="end" fill="#1a1a1a" stroke="#1a1a1a" stroke-width="0.15">10</text>
<text x="546.00" y="405.70" font-size="8.8" font-family="Liberation Serif" text-anchor="end" fill="#1a1a1a" stroke="#1a1a1a" stroke-width="0.15">15</text>
<text x="546.00" y="387.20" font-size="8.8" font-family="Liberation Serif" text-anchor="end" fill="#1a1a1a" stroke="#1a1a1a" stroke-width="0.15">20</text>
<rect x="558.50" y="448.00" width="16.50" height="10.20" fill="#0a0a0a"/>
<line x1="566.75" y1="448.00" x2="566.75" y2="444.80" stroke="#111" stroke-width="1.05"/>
<line x1="563.25" y1="444.80" x2="570.25" y2="444.80" stroke="#111" stroke-width="1.05"/>
<rect x="592.00" y="446.60" width="16.20" height="11.60" fill="#9a9a9a"/>
<line x1="600.10" y1="446.60" x2="600.10" y2="443.60" stroke="#111" stroke-width="1.05"/>
<line x1="596.60" y1="443.60" x2="603.60" y2="443.60" stroke="#111" stroke-width="1.05"/>
<rect x="625.30" y="448.00" width="16.30" height="10.20" fill="#666666"/>
<line x1="633.45" y1="448.00" x2="633.45" y2="445.70" stroke="#111" stroke-width="1.05"/>
<line x1="629.95" y1="445.70" x2="636.95" y2="445.70" stroke="#111" stroke-width="1.05"/>
<rect x="658.40" y="398.40" width="16.20" height="59.80" fill="#d6d6d6"/>
<line x1="666.50" y1="398.40" x2="666.50" y2="396.30" stroke="#111" stroke-width="1.05"/>
<line x1="663.00" y1="396.30" x2="670.00" y2="396.30" stroke="#111" stroke-width="1.05"/>
<line x1="562.40" y1="391.60" x2="668.70" y2="391.60" stroke="#1a1a1a" stroke-width="1"/>
<text x="603.30" y="387.20" font-size="8.1" font-family="Liberation Serif" text-anchor="middle" fill="#1a1a1a" stroke="#1a1a1a" stroke-width="0.15">P&lt;0.05</text>
<line x1="566.20" y1="433.40" x2="636.20" y2="433.40" stroke="#1a1a1a" stroke-width="1"/>
<text x="596.70" y="430.30" font-size="8.8" font-family="Liberation Sans" text-anchor="middle" fill="#1a1a1a" stroke="#1a1a1a" stroke-width="0.15">ns</text>
<line x1="566.20" y1="441.60" x2="602.30" y2="441.60" stroke="#1a1a1a" stroke-width="1"/>
<text x="583.90" y="439.80" font-size="8.8" font-family="Liberation Sans" text-anchor="middle" fill="#1a1a1a" stroke="#1a1a1a" stroke-width="0.15">ns</text>
<text x="569.75" y="467.00" font-size="8.1" font-family="Liberation Serif" text-anchor="end" fill="#1a1a1a" stroke="#1a1a1a" stroke-width="0.15" transform="rotate(-45 569.75 467.00)">Untreated</text>
<text x="603.10" y="467.00" font-size="8.1" font-family="Liberation Serif" text-anchor="end" fill="#1a1a1a" stroke="#1a1a1a" stroke-width="0.15" transform="rotate(-45 603.10 467.00)">VLP</text>
<text x="637.45" y="467.00" font-size="8.1" font-family="Liberation Serif" text-anchor="end" fill="#1a1a1a" stroke="#1a1a1a" stroke-width="0.15" transform="rotate(-45 637.45 467.00)">VSV(G)-VLP</text>
<text x="671.70" y="467.00" font-size="8.1" font-family="Liberation Serif" text-anchor="end" fill="#1a1a1a" stroke="#1a1a1a" stroke-width="0.15" transform="rotate(-45 671.70 467.00)">Env-VLP</text>
<g transform="translate(525.40 451.50) rotate(-90)" fill="#1a1a1a" font-family="Liberation Serif" stroke="#1a1a1a" stroke-width="0.15"><text x="0.00" y="0" font-size="10.6" textLength="18.06" lengthAdjust="spacingAndGlyphs">RLU</text><text x="18.32" y="0" font-size="10.6" textLength="3.87" lengthAdjust="spacingAndGlyphs">(</text><path d="M23.22,-5.83 L29.41,-0.53 M23.22,-0.53 L29.41,-5.83" stroke="#1a1a1a" stroke-width="0.79" fill="none"/><text x="30.70" y="0" font-size="10.6" textLength="11.87" lengthAdjust="spacingAndGlyphs">10</text><text x="43.09" y="-4.03" font-size="6.57" textLength="3.61" lengthAdjust="spacingAndGlyphs">3</text><text x="47.21" y="0" font-size="10.6" textLength="4.39" lengthAdjust="spacingAndGlyphs">)</text></g>
<line x1="90.60" y1="35.90" x2="90.60" y2="92.90" stroke="#2a2a2a" stroke-width="1.1"/>
<line x1="88.10" y1="92.40" x2="90.60" y2="92.40" stroke="#2a2a2a" stroke-width="1.1"/>
<line x1="88.10" y1="81.18" x2="90.60" y2="81.18" stroke="#2a2a2a" stroke-width="1.1"/>
<line x1="88.10" y1="69.96" x2="90.60" y2="69.96" stroke="#2a2a2a" stroke-width="1.1"/>
<line x1="88.10" y1="58.74" x2="90.60" y2="58.74" stroke="#2a2a2a" stroke-width="1.1"/>
<line x1="88.10" y1="47.52" x2="90.60" y2="47.52" stroke="#2a2a2a" stroke-width="1.1"/>
<line x1="88.10" y1="36.30" x2="90.60" y2="36.30" stroke="#2a2a2a" stroke-width="1.1"/>
<line x1="90.60" y1="92.40" x2="214.00" y2="92.40" stroke="#2a2a2a" stroke-width="1.15"/>
<line x1="106.25" y1="92.40" x2="106.25" y2="94.40" stroke="#2a2a2a" stroke-width="1.15"/>
<line x1="136.50" y1="92.40" x2="136.50" y2="94.40" stroke="#2a2a2a" stroke-width="1.15"/>
<line x1="167.00" y1="92.40" x2="167.00" y2="94.40" stroke="#2a2a2a" stroke-width="1.15"/>
<line x1="197.80" y1="92.40" x2="197.80" y2="94.40" stroke="#2a2a2a" stroke-width="1.15"/>
<line x1="88.90" y1="152.10" x2="88.90" y2="224.40" stroke="#2a2a2a" stroke-width="1.1"/>
<line x1="86.40" y1="223.90" x2="88.90" y2="223.90" stroke="#2a2a2a" stroke-width="1.1"/>
<line x1="86.40" y1="200.10" x2="88.90" y2="200.10" stroke="#2a2a2a" stroke-width="1.1"/>
<line x1="86.40" y1="176.30" x2="88.90" y2="176.30" stroke="#2a2a2a" stroke-width="1.1"/>
<line x1="86.40" y1="152.50" x2="88.90" y2="152.50" stroke="#2a2a2a" stroke-width="1.1"/>
<line x1="88.90" y1="223.90" x2="216.80" y2="223.90" stroke="#2a2a2a" stroke-width="1.15"/>
<line x1="102.00" y1="223.90" x2="102.00" y2="225.90" stroke="#2a2a2a" stroke-width="1.15"/>
<line x1="128.00" y1="223.90" x2="128.00" y2="225.90" stroke="#2a2a2a" stroke-width="1.15"/>
<line x1="153.00" y1="223.90" x2="153.00" y2="225.90" stroke="#2a2a2a" stroke-width="1.15"/>
<line x1="178.25" y1="223.90" x2="178.25" y2="225.90" stroke="#2a2a2a" stroke-width="1.15"/>
<line x1="203.75" y1="223.90" x2="203.75" y2="225.90" stroke="#2a2a2a" stroke-width="1.15"/>
<line x1="94.40" y1="264.90" x2="94.40" y2="337.10" stroke="#2a2a2a" stroke-width="1.1"/>
<line x1="91.90" y1="336.60" x2="94.40" y2="336.60" stroke="#2a2a2a" stroke-width="1.1"/>
<line x1="91.90" y1="312.83" x2="94.40" y2="312.83" stroke="#2a2a2a" stroke-width="1.1"/>
<line x1="91.90" y1="289.07" x2="94.40" y2="289.07" stroke="#2a2a2a" stroke-width="1.1"/>
<line x1="91.90" y1="265.30" x2="94.40" y2="265.30" stroke="#2a2a2a" stroke-width="1.1"/>
<line x1="94.40" y1="336.60" x2="218.00" y2="336.60" stroke="#777" stroke-width="1.4"/>
<line x1="92.90" y1="393.00" x2="92.90" y2="466.20" stroke="#2a2a2a" stroke-width="1.1"/>
<line x1="90.40" y1="465.70" x2="92.90" y2="465.70" stroke="#2a2a2a" stroke-width="1.1"/>
<line x1="90.40" y1="451.24" x2="92.90" y2="451.24" stroke="#2a2a2a" stroke-width="1.1"/>
<line x1="90.40" y1="436.78" x2="92.90" y2="436.78" stroke="#2a2a2a" stroke-width="1.1"/>
<line x1="90.40" y1="422.32" x2="92.90" y2="422.32" stroke="#2a2a2a" stroke-width="1.1"/>
<line x1="90.40" y1="407.86" x2="92.90" y2="407.86" stroke="#2a2a2a" stroke-width="1.1"/>
<line x1="90.40" y1="393.40" x2="92.90" y2="393.40" stroke="#2a2a2a" stroke-width="1.1"/>
<line x1="92.90" y1="465.70" x2="229.50" y2="465.70" stroke="#2a2a2a" stroke-width="1.15"/>
<line x1="109.50" y1="465.70" x2="109.50" y2="467.70" stroke="#2a2a2a" stroke-width="1.15"/>
<line x1="143.75" y1="465.70" x2="143.75" y2="467.70" stroke="#2a2a2a" stroke-width="1.15"/>
<line x1="178.00" y1="465.70" x2="178.00" y2="467.70" stroke="#2a2a2a" stroke-width="1.15"/>
<line x1="212.00" y1="465.70" x2="212.00" y2="467.70" stroke="#2a2a2a" stroke-width="1.15"/>
<line x1="541.40" y1="118.50" x2="541.40" y2="196.75" stroke="#2a2a2a" stroke-width="1.1"/>
<line x1="538.90" y1="196.25" x2="541.40" y2="196.25" stroke="#2a2a2a" stroke-width="1.1"/>
<line x1="538.90" y1="180.78" x2="541.40" y2="180.78" stroke="#2a2a2a" stroke-width="1.1"/>
<line x1="538.90" y1="165.31" x2="541.40" y2="165.31" stroke="#2a2a2a" stroke-width="1.1"/>
<line x1="538.90" y1="149.84" x2="541.40" y2="149.84" stroke="#2a2a2a" stroke-width="1.1"/>
<line x1="538.90" y1="134.37" x2="541.40" y2="134.37" stroke="#2a2a2a" stroke-width="1.1"/>
<line x1="538.90" y1="118.90" x2="541.40" y2="118.90" stroke="#2a2a2a" stroke-width="1.1"/>
<line x1="541.40" y1="196.25" x2="668.50" y2="196.25" stroke="#2a2a2a" stroke-width="1.15"/>
<line x1="557.10" y1="196.25" x2="557.10" y2="198.25" stroke="#2a2a2a" stroke-width="1.15"/>
<line x1="588.75" y1="196.25" x2="588.75" y2="198.25" stroke="#2a2a2a" stroke-width="1.15"/>
<line x1="620.40" y1="196.25" x2="620.40" y2="198.25" stroke="#2a2a2a" stroke-width="1.15"/>
<line x1="652.10" y1="196.25" x2="652.10" y2="198.25" stroke="#2a2a2a" stroke-width="1.15"/>
<line x1="317.40" y1="386.20" x2="317.40" y2="461.50" stroke="#2a2a2a" stroke-width="1.1"/>
<line x1="314.90" y1="461.00" x2="317.40" y2="461.00" stroke="#2a2a2a" stroke-width="1.1"/>
<line x1="314.90" y1="442.40" x2="317.40" y2="442.40" stroke="#2a2a2a" stroke-width="1.1"/>
<line x1="314.90" y1="423.80" x2="317.40" y2="423.80" stroke="#2a2a2a" stroke-width="1.1"/>
<line x1="314.90" y1="405.20" x2="317.40" y2="405.20" stroke="#2a2a2a" stroke-width="1.1"/>
<line x1="314.90" y1="386.60" x2="317.40" y2="386.60" stroke="#2a2a2a" stroke-width="1.1"/>
<line x1="317.40" y1="461.00" x2="445.60" y2="461.00" stroke="#2a2a2a" stroke-width="1.15"/>
<line x1="329.00" y1="461.00" x2="329.00" y2="463.00" stroke="#2a2a2a" stroke-width="1.15"/>
<line x1="349.65" y1="461.00" x2="349.65" y2="463.00" stroke="#2a2a2a" stroke-width="1.15"/>
<line x1="370.40" y1="461.00" x2="370.40" y2="463.00" stroke="#2a2a2a" stroke-width="1.15"/>
<line x1="392.45" y1="461.00" x2="392.45" y2="463.00" stroke="#2a2a2a" stroke-width="1.15"/>
<line x1="413.85" y1="461.00" x2="413.85" y2="463.00" stroke="#2a2a2a" stroke-width="1.15"/>
<line x1="435.20" y1="461.00" x2="435.20" y2="463.00" stroke="#2a2a2a" stroke-width="1.15"/>
<line x1="549.20" y1="282.50" x2="549.20" y2="359.00" stroke="#2a2a2a" stroke-width="1.1"/>
<line x1="546.70" y1="358.50" x2="549.20" y2="358.50" stroke="#2a2a2a" stroke-width="1.1"/>
<line x1="546.70" y1="343.38" x2="549.20" y2="343.38" stroke="#2a2a2a" stroke-width="1.1"/>
<line x1="546.70" y1="328.26" x2="549.20" y2="328.26" stroke="#2a2a2a" stroke-width="1.1"/>
<line x1="546.70" y1="313.14" x2="549.20" y2="313.14" stroke="#2a2a2a" stroke-width="1.1"/>
<line x1="546.70" y1="298.02" x2="549.20" y2="298.02" stroke="#2a2a2a" stroke-width="1.1"/>
<line x1="546.70" y1="282.90" x2="549.20" y2="282.90" stroke="#2a2a2a" stroke-width="1.1"/>
<line x1="549.20" y1="358.50" x2="674.60" y2="358.50" stroke="#2a2a2a" stroke-width="1.15"/>
<line x1="564.70" y1="358.50" x2="564.70" y2="360.80" stroke="#2a2a2a" stroke-width="1.15"/>
<line x1="596.00" y1="358.50" x2="596.00" y2="360.80" stroke="#2a2a2a" stroke-width="1.15"/>
<line x1="627.35" y1="358.50" x2="627.35" y2="360.80" stroke="#2a2a2a" stroke-width="1.15"/>
<line x1="658.35" y1="358.50" x2="658.35" y2="360.80" stroke="#2a2a2a" stroke-width="1.15"/>
<line x1="549.90" y1="383.80" x2="549.90" y2="458.70" stroke="#2a2a2a" stroke-width="1.1"/>
<line x1="547.40" y1="458.20" x2="549.90" y2="458.20" stroke="#2a2a2a" stroke-width="1.1"/>
<line x1="547.40" y1="439.70" x2="549.90" y2="439.70" stroke="#2a2a2a" stroke-width="1.1"/>
<line x1="547.40" y1="421.20" x2="549.90" y2="421.20" stroke="#2a2a2a" stroke-width="1.1"/>
<line x1="547.40" y1="402.70" x2="549.90" y2="402.70" stroke="#2a2a2a" stroke-width="1.1"/>
<line x1="547.40" y1="384.20" x2="549.90" y2="384.20" stroke="#2a2a2a" stroke-width="1.1"/>
<line x1="549.90" y1="458.20" x2="679.00" y2="458.20" stroke="#2a2a2a" stroke-width="1.15"/>
<line x1="566.75" y1="458.20" x2="566.75" y2="460.20" stroke="#2a2a2a" stroke-width="1.15"/>
<line x1="600.10" y1="458.20" x2="600.10" y2="460.20" stroke="#2a2a2a" stroke-width="1.15"/>
<line x1="633.45" y1="458.20" x2="633.45" y2="460.20" stroke="#2a2a2a" stroke-width="1.15"/>
<line x1="666.50" y1="458.20" x2="666.50" y2="460.20" stroke="#2a2a2a" stroke-width="1.15"/>
</svg>
</body></html>
